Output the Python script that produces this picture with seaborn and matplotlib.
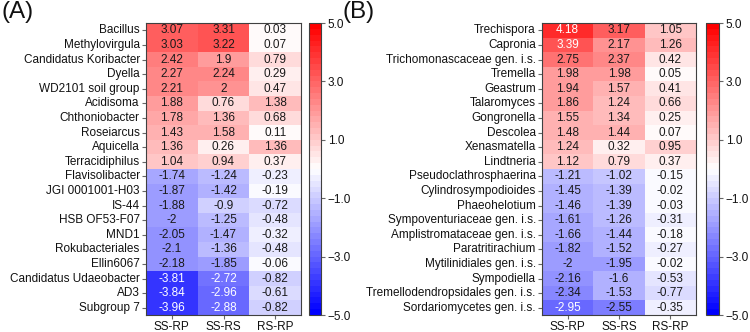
import numpy as np
import pandas as pd
import matplotlib
matplotlib.use("Agg")
import matplotlib.pyplot as plt
import matplotlib.ticker as mticker
import seaborn as sns

columns = ["SS-RP", "SS-RS", "RS-RP"]

taxa_a = ["Bacillus", "Methylovirgula", "Candidatus Koribacter", "Dyella",
          "WD2101 soil group", "Acidisoma", "Chthoniobacter", "Roseiarcus",
          "Aquicella", "Terracidiphilus", "Flavisolibacter", "JGI 0001001-H03",
          "IS-44", "HSB OF53-F07", "MND1", "Rokubacteriales", "Ellin6067",
          "Candidatus Udaeobacter", "AD3", "Subgroup 7"]
ss_rp_a = [3.07, 3.03, 2.42, 2.27, 2.21, 1.88, 1.78, 1.43, 1.36, 1.04,
           -1.74, -1.87, -1.88, -2, -2.05, -2.1, -2.18, -3.81, -3.84, -3.96]
ss_rs_a = [3.31, 3.22, 1.9, 2.24, 2, 0.76, 1.36, 1.58, 0.26, 0.94,
           -1.24, -1.42, -0.9, -1.25, -1.47, -1.36, -1.85, -2.72, -2.96, -2.88]
rs_rp_a = [0.03, 0.07, 0.79, 0.29, 0.47, 1.38, 0.68, 0.11, 1.36, 0.37,
           -0.23, -0.19, -0.72, -0.48, -0.32, -0.48, -0.06, -0.82, -0.61, -0.82]

taxa_b = ["Trechispora", "Capronia", "Trichomonascaceae gen. i.s.", "Tremella",
          "Geastrum", "Talaromyces", "Gongronella", "Descolea", "Xenasmatella",
          "Lindtneria", "Pseudoclathrosphaerina", "Cylindrosympodioides",
          "Phaeohelotium", "Sympoventuriaceae gen. i.s.",
          "Amplistromataceae gen. i.s.", "Paratritirachium",
          "Mytilinidiales gen. i.s.", "Sympodiella",
          "Tremellodendropsidales gen. i.s.", "Sordariomycetes gen. i.s."]
ss_rp_b = [4.18, 3.39, 2.75, 1.98, 1.94, 1.86, 1.55, 1.48, 1.24, 1.12,
           -1.21, -1.45, -1.46, -1.61, -1.66, -1.82, -2, -2.16, -2.34, -2.95]
ss_rs_b = [3.17, 2.17, 2.37, 1.98, 1.57, 1.24, 1.34, 1.44, 0.32, 0.79,
           -1.02, -1.39, -1.39, -1.26, -1.44, -1.52, -1.95, -1.6, -1.53, -2.55]
rs_rp_b = [1.05, 1.26, 0.42, 0.05, 0.41, 0.66, 0.25, 0.07, 0.95, 0.37,
           -0.15, -0.02, -0.03, -0.31, -0.18, -0.27, -0.02, -0.53, -0.77, -0.35]

cbar_ticks = [-5, -3, -1, 1, 3, 5]

df_a = pd.DataFrame({"SS-RP": ss_rp_a, "SS-RS": ss_rs_a, "RS-RP": rs_rp_a}, index=taxa_a)[columns]
df_b = pd.DataFrame({"SS-RP": ss_rp_b, "SS-RS": ss_rs_b, "RS-RP": rs_rp_b}, index=taxa_b)[columns]

sns.set_theme(style="white")
plt.rcParams["font.family"] = ["Liberation Sans", "DejaVu Sans"]

cmap = matplotlib.colormaps["bwr"].resampled(50)
edge = "#404040"

fig = plt.figure(figsize=(7.5, 3.32), dpi=100)

panels = [
    (df_a, [146 / 750, 0.0512, 155 / 750, 0.8795], [309 / 750, 0.0512, 12 / 750, 0.8795], "(A)", 0.002),
    (df_b, [542 / 750, 0.0512, 154 / 750, 0.8795], [706 / 750, 0.0512, 13 / 750, 0.8795], "(B)", 0.457),
]

def fmt_tick(x, pos):
    return f"{x:.1f}".replace("-", "\u2212")

for df, hpos, cpos, label, lx in panels:
    ax = fig.add_axes(hpos)
    cax = fig.add_axes(cpos)
    sns.heatmap(df, ax=ax, cbar_ax=cax, cmap=cmap, vmin=-5, vmax=5,
                annot=True, fmt="g", annot_kws={"fontsize": 8.5},
                linewidths=0, xticklabels=True, yticklabels=True)
    vals = df.values.flatten()
    for t, v in zip(ax.texts, vals):
        if v >= 3.35 or v <= -2.6:
            t.set_color("white")
        else:
            t.set_color("#1a1a1a")
    for s in ax.spines.values():
        s.set_visible(True)
        s.set_color(edge)
        s.set_linewidth(0.8)
    ax.tick_params(axis="both", which="both", length=3, width=0.8,
                   color="#666666", labelsize=8.5, labelcolor="#111111", pad=1.5,
                   left=True, bottom=True)
    plt.setp(ax.get_yticklabels(), rotation=0)
    plt.setp(ax.get_xticklabels(), rotation=0)
    ax.set_xlabel("")
    ax.set_ylabel("")
    cax.yaxis.set_major_locator(mticker.FixedLocator(cbar_ticks))
    cax.yaxis.set_major_formatter(mticker.FuncFormatter(fmt_tick))
    cax.tick_params(axis="y", length=3, width=0.8, color="#666666",
                    labelsize=8.5, labelcolor="#111111", pad=2, right=True)
    cb = ax.collections[0].colorbar
    cb.outline.set_visible(True)
    cb.outline.set_edgecolor(edge)
    cb.outline.set_linewidth(0.8)
    fig.text(lx, 0.998, label, fontsize=17.5, va="top", ha="left", color="#111111")

fig.savefig("out.png", dpi=100)
